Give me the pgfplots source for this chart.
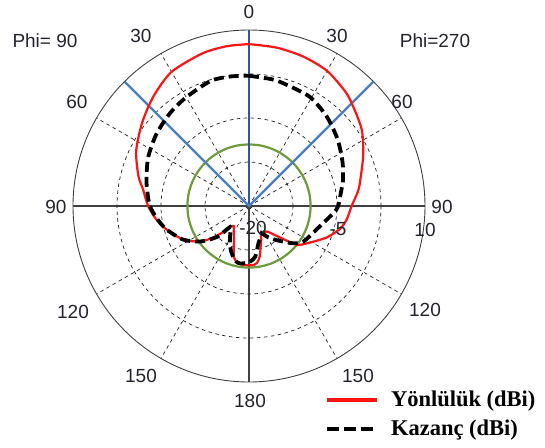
\documentclass[border=0pt]{standalone}
\usepackage{fontspec}
\setmainfont{Liberation Sans}
\newfontfamily\legfont{Liberation Serif}
\usepackage{pgfplots}
\usepackage{pgfplotstable}
\usepgfplotslibrary{polar}
\pgfplotsset{compat=1.18}
\definecolor{gridc}{RGB}{30,30,30}
\definecolor{grn}{RGB}{110,155,60}
\definecolor{blu}{RGB}{74,126,190}
\definecolor{bluv}{RGB}{47,84,160}
\definecolor{redc}{RGB}{250,20,20}
\definecolor{txt}{RGB}{35,35,45}

% theta: degrees from the top, clockwise (right half = Phi=270, left half = Phi=90)
\pgfplotstableread{
theta dB
0 7.6
10 7.4
20 7.1
30 6.6
40 5.5
46 4.6
56 3.2
66 1.3
76 -0.4
82 -1.2
90 -2.5
98 -3.2
104 -4.0
112 -5.7
122 -8.1
129 -9.5
135 -12.3
140 -13.8
145 -14.7
150 -14.8
156 -14.9
160 -13.9
164 -12.8
168 -11.2
172 -10.2
176 -9.9
180 -9.9
184 -9.9
189 -10.0
193 -10.3
197 -11.1
204 -13.7
210 -14.8
217 -15.7
221 -15.3
224 -14.2
227 -12.6
230 -11.3
234 -9.7
243 -7.4
254 -5.4
262 -4.0
270 -2.8
279 -1.7
285 -0.5
296 1.4
308 3.1
319 4.8
330 6.4
343 7.2
352 7.5
360 7.6
}\dirtab

\pgfplotstableread{
theta dB
0 2.2
10 1.95
16 1.7
29 1.3
41 0.2
53 -1.1
65 -2.4
76 -3.5
80 -4.0
90 -4.8
95 -5.6
109 -7.8
123 -8.9
130 -10.1
141 -12.5
150 -14.0
155 -14.9
160 -14.3
166 -13.4
173 -11.3
179 -10.5
185 -10.2
189 -10.1
193 -10.3
200 -11.4
206 -12.6
212 -13.9
217 -14.8
222 -15.2
226 -12.4
234 -9.7
243 -7.4
254 -5.4
262 -4.2
270 -3.1
278 -2.5
285 -1.9
296 -0.9
308 0.0
320 0.8
330 1.4
343 2.3
352 2.3
360 2.2
}\gaintab

\pgfplotstableread{
theta dB
0 -9.5
10 -9.5
20 -9.5
30 -9.5
40 -9.5
50 -9.5
60 -9.5
70 -9.5
80 -9.5
90 -9.5
100 -9.5
110 -9.5
120 -9.5
130 -9.5
140 -9.5
150 -9.5
160 -9.5
170 -9.5
180 -9.5
190 -9.5
200 -9.5
210 -9.5
220 -9.5
230 -9.5
240 -9.5
250 -9.5
260 -9.5
270 -9.5
280 -9.5
290 -9.5
300 -9.5
310 -9.5
320 -9.5
330 -9.5
340 -9.5
350 -9.5
360 -9.5
}\greentab

\newcommand{\tl}{\fontsize{19}{22}\selectfont}
\begin{document}
\begin{tikzpicture}[x=1pt,y=1pt]
\useasboundingbox (-249,-241) rectangle (296,206);
\begin{polaraxis}[
  at={(0,0)}, anchor=center,
  width=352pt, height=352pt, scale only axis,
  ymin=0, ymax=30,
  xtick={0,90,180,270},
  minor xtick={30,60,120,150,210,240,300,330},
  ytick={7.5,15,22.5},
  xticklabels={}, yticklabels={},
  grid=both,
  major x grid style={solid, draw=gridc!85, line width=1.2pt},
  minor x grid style={dash pattern=on 3.5pt off 3.5pt, draw=gridc, line width=0.7pt},
  major y grid style={dash pattern=on 3.5pt off 3.5pt, draw=gridc, line width=0.7pt},
  axis line style={draw=gridc!85, line width=0.9pt},
  major tick length=0pt, minor tick length=0pt,
  clip=false,
  legend cell align=left,
  legend image code/.code={\draw[#1] (0pt,0pt) -- (50pt,0pt);},
  legend style={at={(axis description cs:0.714,-0.02)}, anchor=north west,
    draw=none, fill=none, font=\legfont\bfseries\fontsize{22.5}{25}\selectfont,
    row sep=8pt, inner sep=0pt,
    /tikz/every odd column/.append style={column sep=10pt}},
]
\addlegendimage{redc, line width=4.5pt}
\addlegendentry{Yönlülük (dBi)}
\addlegendimage{black, line width=4.5pt, dash pattern=on 12pt off 5pt}
\addlegendentry{Kazanç (dBi)}

\addplot[grn, line width=2.2pt, smooth, forget plot] table[x expr=90-\thisrow{theta}, y expr=\thisrow{dB}+20] {\greentab};
\addplot[bluv, line width=2.4pt, forget plot] coordinates {(90,0) (90,30)};
\addplot[blu, line width=2.4pt, forget plot] coordinates {(45,30) (45,0) (135,30)};
\addplot[redc, line width=2.2pt, smooth, tension=0.45, forget plot] table[x expr=90-\thisrow{theta}, y expr=\thisrow{dB}+20] {\dirtab};
\addplot[black, line width=3.8pt, dash pattern=on 10pt off 5pt, smooth, tension=0.45, forget plot] table[x expr=90-\thisrow{theta}, y expr=\thisrow{dB}+20] {\gaintab};
\end{polaraxis}
\begin{scope}[every node/.style={text=txt, font=\tl, inner sep=0pt}]
\node at (0,194) {0};
\node at (-108,170) {30};
\node at (88,170) {30};
\node at (-172,104) {60};
\node at (153,104) {60};
\node at (-193,-1) {90};
\node at (193,-1) {90};
\node at (176,-24) {10};
\node at (-176,-106) {120};
\node at (176,-104) {120};
\node at (-108,-170) {150};
\node at (109,-170) {150};
\node at (1,-195) {180};
\node at (4,-22) {-20};
\node at (89,-23) {-5};
\node at (-204,165) {Phi= 90};
\node at (186,165) {Phi=270};
\end{scope}
\end{tikzpicture}
\end{document}
